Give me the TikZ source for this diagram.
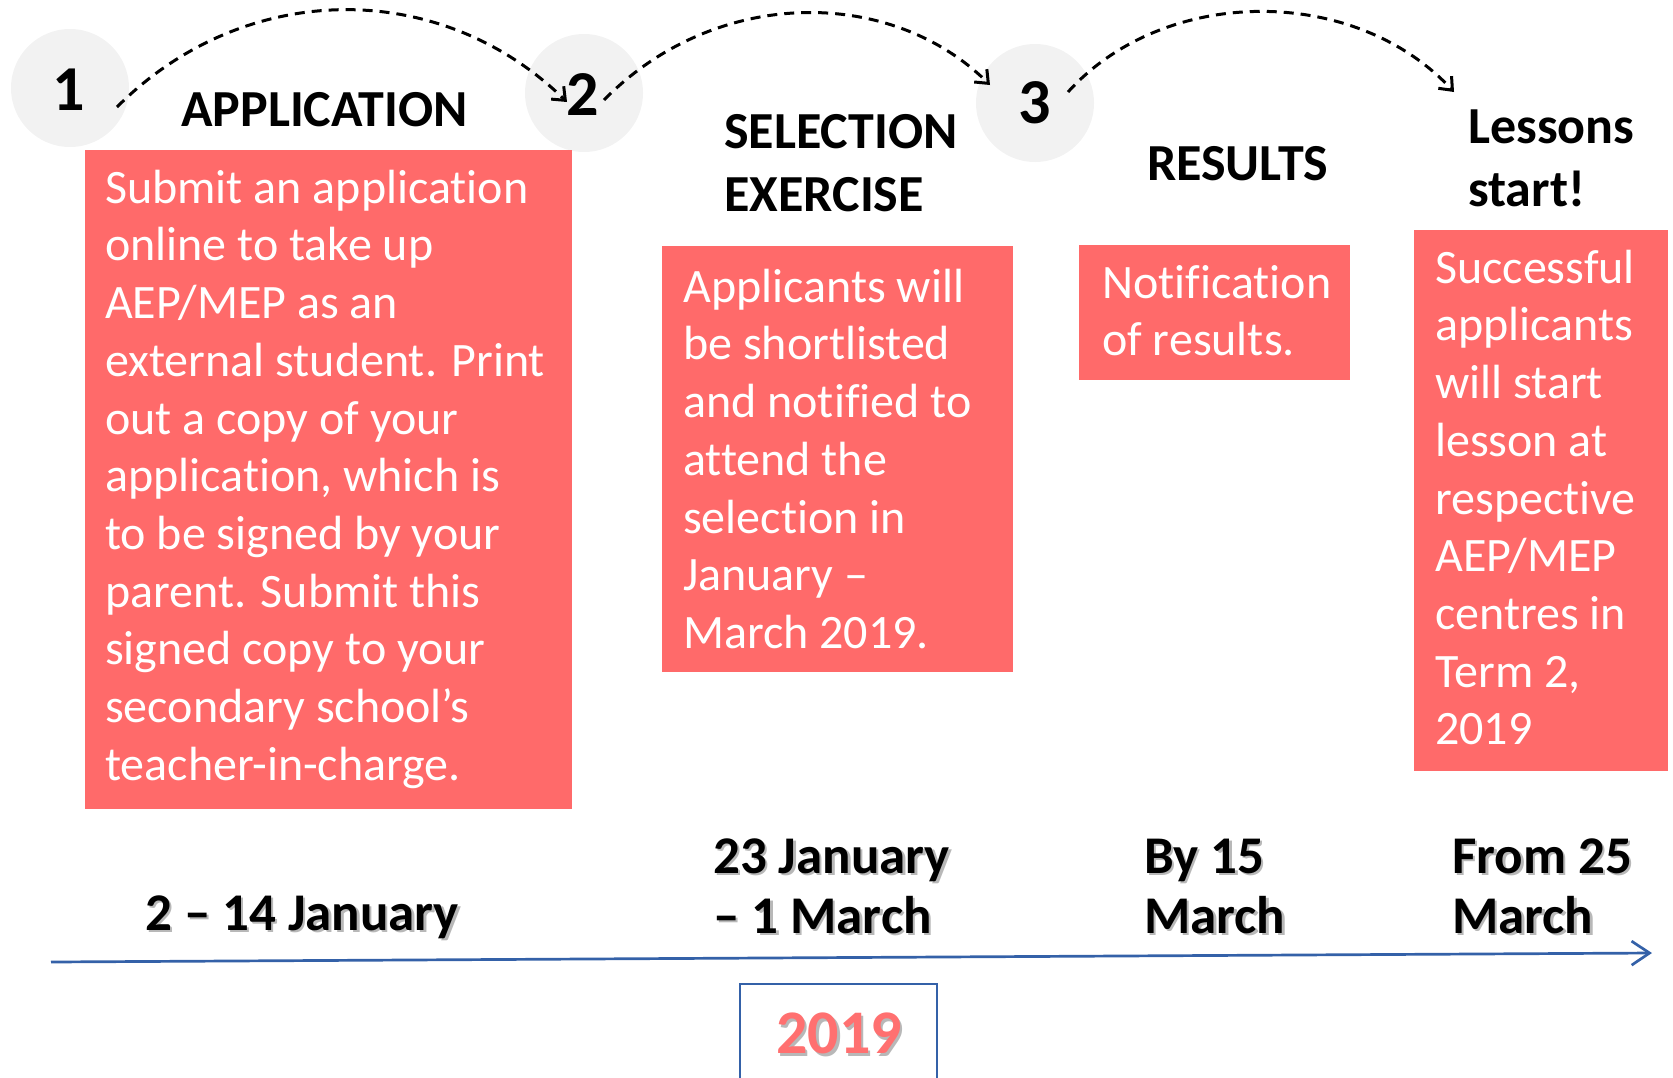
\documentclass[tikz,border=0pt]{standalone}
\usepackage{fontspec}
\setmainfont{Carlito}[Ligatures={NoCommon}]
\usetikzlibrary{arrows.meta}
\definecolor{boxred}{HTML}{FF6A6A}
\definecolor{circgray}{HTML}{F2F2F2}
\definecolor{lineblue}{HTML}{3461A8}
\definecolor{yearred}{HTML}{FF7070}
\begin{document}
\begin{tikzpicture}[x=1pt,y=-1pt,
  redbox/.style={fill=boxred, draw=none, inner sep=0pt, anchor=north west},
  stepcircle/.style={circle, fill=circgray, minimum size=118pt, inner sep=0pt},
  numtxt/.style={font=\fontsize{64}{70}\selectfont\bfseries, inner sep=0pt, anchor=base},
  head/.style={font=\fontsize{52}{63}\selectfont\bfseries, inner sep=0pt, anchor=north west, align=left},
  headone/.style={font=\fontsize{52}{63}\selectfont\bfseries, inner sep=0pt, anchor=base west},
  body/.style={font=\fontsize{48}{57.7}\selectfont, text=white, inner sep=0pt, anchor=north west, align=left},
  datetxt/.style={font=\fontsize{53}{60}\selectfont\bfseries, inner sep=0pt, anchor=north west, align=left},
  dateone/.style={font=\fontsize{53}{60}\selectfont\bfseries, inner sep=0pt, anchor=base west},
  shadowtxt/.style={text=black!28},
  hop/.style={draw=black, line width=3pt, dash pattern=on 10pt off 7pt, -{Straight Barb[length=11pt,width=18pt]}},
  timeline/.style={draw=lineblue, line width=2.7pt, -{Straight Barb[length=18pt,width=24pt]}}
]
\useasboundingbox (0,0) rectangle (1673,1077);

% circles
\node[stepcircle] (c1) at (70,88) {};
\node[stepcircle] (c2) at (584,93) {};
\node[stepcircle] (c3) at (1035,103) {};
\node[numtxt] (n1) at (69,110) {1};
\node[numtxt] (n2) at (583,115) {2};
\node[numtxt] (n3) at (1035,123) {3};

% dashed hops
\coordinate (h1s) at (117,107);
\coordinate (h1e) at (567,102);
\coordinate (h2s) at (604,100);
\coordinate (h2e) at (990,85);
\coordinate (h3s) at (1068,92);
\coordinate (h3e) at (1454,92);
\draw[hop] (h1s) .. controls (245,-21) and (440,-22) .. (h1e);
\draw[hop] (h2s) .. controls (715,-13) and (890,-14) .. (h2e);
\draw[hop] (h3s) .. controls (1165,-15) and (1355,-15) .. (h3e);

% headings
\node[headone] (t1) at (181,126) {APPLICATION};
\node[head] (t2) at (724,103.9) {\strut SELECTION\\EXERCISE};
\node[headone] (t3) at (1147,180) {RESULTS};
\node[head] (t4) at (1468,98.9) {\strut Lessons\\start!};

% red boxes
\node[redbox, minimum width=487pt, minimum height=659pt] (b1) at (85,150) {};
\node[redbox, minimum width=351pt, minimum height=426pt] (b2) at (662,246) {};
\node[redbox, minimum width=271pt, minimum height=135pt] (b3) at (1079,245) {};
\node[redbox, minimum width=254pt, minimum height=541pt] (b4) at (1414,230) {};

\node[body] (x1) at (105,162.6) {\strut Submit an application\\online to take up\\AEP/MEP as an\\external student. Print\\out a copy of your\\application, which is\\to be signed by your\\parent. Submit this\\signed copy to your\\secondary school’s\\teacher-in-charge.};
\node[body] (x2) at (683,261.6) {\strut Applicants will\\be shortlisted\\and notified to\\attend the\\selection in\\January –\\March 2019.};
\node[body] (x3) at (1102,257.6) {\strut Notification\\of results.};
\node[body] (x4) at (1435,242.6) {\strut Successful\\applicants\\will start\\lesson at\\respective\\AEP/MEP\\centres in\\Term 2,\\2019};

% dates (with shadows)
\node[dateone, shadowtxt] (d1s) at (147.5,932.5) {2 – 14 January};
\node[dateone] (d1) at (145,930) {2 – 14 January};
\node[datetxt, shadowtxt] (d2s) at (715.5,833.5) {\strut 23 January\\– 1 March};
\node[datetxt] (d2) at (713,831) {\strut 23 January\\– 1 March};
\node[datetxt, shadowtxt] (d3s) at (1146.5,833.5) {\strut By 15\\March};
\node[datetxt] (d3) at (1144,831) {\strut By 15\\March};
\node[datetxt, shadowtxt] (d4s) at (1454.5,833.5) {\strut From 25\\March};
\node[datetxt] (d4) at (1452,831) {\strut From 25\\March};

% timeline
\coordinate (tl0) at (51,962);
\coordinate (tl1) at (1652,953);
\draw[timeline] (tl0) -- (tl1);

% year box
\node[draw=lineblue, line width=2pt, minimum width=197pt, minimum height=110pt, anchor=north, inner sep=0pt] (yb) at (838.5,983) {};
\node[font=\fontsize{62}{70}\selectfont\bfseries, text=black!28, inner sep=0pt, anchor=base] (ys) at (841.5,1056) {2019};
\node[font=\fontsize{62}{70}\selectfont\bfseries, text=yearred, inner sep=0pt, anchor=base] (yr) at (839,1053) {2019};
\end{tikzpicture}
\end{document}
